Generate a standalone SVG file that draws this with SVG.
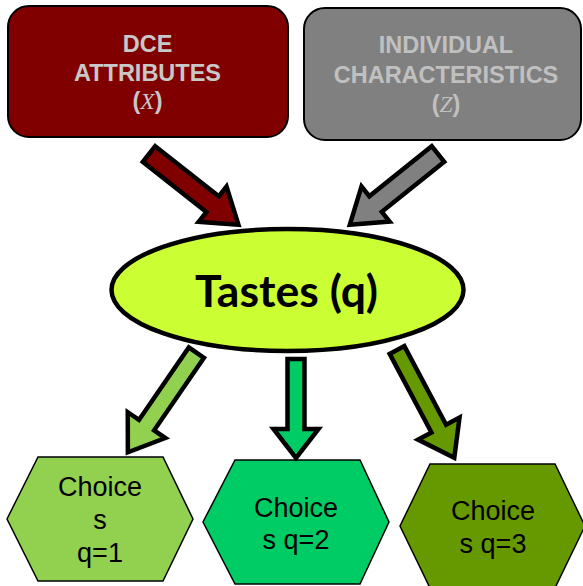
<svg xmlns="http://www.w3.org/2000/svg" width="583" height="586" viewBox="0 0 583 586">
<style>
.box{stroke:#000;stroke-width:2}
.bt{font-family:"Liberation Sans",Arial,sans-serif;font-weight:bold;font-size:23.5px;text-anchor:middle}
.var{font-family:"Liberation Serif","Times New Roman",serif;font-style:italic;font-weight:normal}
.arr{stroke:#000;stroke-width:4.5;stroke-linejoin:miter;stroke-miterlimit:10}
.hex{stroke:#000;stroke-width:1.5}
.ht{font-family:"Liberation Sans",Arial,sans-serif;font-size:27px;text-anchor:middle;fill:#000}
</style>
<rect width="583" height="586" fill="#fff"/>
<g id="dce">
<rect class="box" x="8" y="6" width="280" height="131" rx="21" fill="#800000"/>
<text class="bt" fill="#c8c8c8"><tspan x="147.5" y="52">DCE</tspan><tspan x="147.5" y="81">ATTRIBUTES</tspan><tspan x="147.5" y="109">(<tspan class="var">X</tspan>)</tspan></text>
</g>
<g id="individual">
<rect class="box" x="304" y="8" width="277" height="132" rx="21" fill="#808080"/>
<text class="bt" fill="#c0c0c0"><tspan x="446" y="53">INDIVIDUAL</tspan><tspan x="446" y="83">CHARACTERISTICS</tspan><tspan x="446" y="112">(<tspan class="var">Z</tspan>)</tspan></text>
</g>
<g id="choice1">
<polygon class="hex" points="38,457 163,457 193,519 163,581 38,581 7,519" fill="#92d050"/>
<text class="ht"><tspan x="100" y="496">Choice</tspan><tspan x="100" y="529">s</tspan><tspan x="100" y="562">q=1</tspan></text>
</g>
<g id="choice2">
<polygon class="hex" points="235,460 360,460 389,522 360,584 235,584 203,522" fill="#00cc66"/>
<text class="ht"><tspan x="296" y="517">Choice</tspan><tspan x="296" y="549">s q=2</tspan></text>
</g>
<g id="choice3">
<polygon class="hex" points="430,464 555,464 585,526 555,588 430,588 400,526" fill="#669900"/>
<text class="ht"><tspan x="493" y="520">Choice</tspan><tspan x="493" y="553">s q=3</tspan></text>
</g>
<g id="connectors">
<path class="arr" fill="#800000" transform="translate(149,154) rotate(38.3)" d="M0,-10 L81,-10 L81,-22.5 L114,0 L81,22.5 L81,10 L0,10 Z"/>
<path class="arr" fill="#808080" transform="translate(438,154) rotate(141.3)" d="M0,-10 L80,-10 L80,-22.5 L113,0 L80,22.5 L80,10 L0,10 Z"/>
<path class="arr" fill="#92d050" transform="translate(196.4,352.6) rotate(124.5)" d="M0,-9.2 L88,-9.2 L88,-22.8 L121,0 L88,22.8 L88,9.2 L0,9.2 Z"/>
<path class="arr" fill="#00cc66" transform="translate(296,359) rotate(90)" d="M0,-8.5 L70,-8.5 L70,-22.5 L99,0 L70,22.5 L70,8.5 L0,8.5 Z"/>
<path class="arr" fill="#669900" transform="translate(397,350) rotate(62)" d="M0,-8.3 L89,-8.3 L89,-23.5 L122,0 L89,23.5 L89,8.3 L0,8.3 Z"/>
</g>
<g id="tastes">
<ellipse cx="287.5" cy="290" rx="176" ry="61" fill="#ccff33" stroke="#000" stroke-width="4.5"/>
<text x="286.5" y="307" font-family="Lato,'Open Sans',sans-serif" font-weight="bold" font-size="43" text-anchor="middle" textLength="183" lengthAdjust="spacingAndGlyphs" fill="#000">Tastes (q)</text>
</g>
</svg>
